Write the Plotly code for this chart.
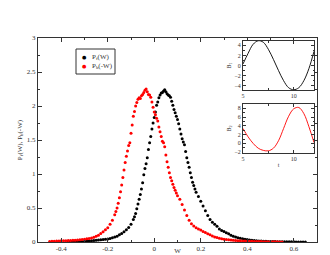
import plotly.graph_objects as go

# ---------------- data ----------------
# P_b(-W) (red)
w_red = [-0.45, -0.44, -0.43, -0.42, -0.41, -0.40, -0.39, -0.38, -0.37, -0.36,
         -0.35, -0.34, -0.33, -0.32, -0.31, -0.30, -0.29, -0.28, -0.27, -0.26,
         -0.25, -0.24, -0.23, -0.22, -0.21, -0.20, -0.19, -0.18, -0.17,
         -0.165, -0.16, -0.155, -0.15, -0.145, -0.14, -0.135, -0.13, -0.125, -0.12,
         -0.115, -0.11, -0.105, -0.10, -0.095, -0.09, -0.085, -0.08, -0.075, -0.07,
         -0.065, -0.06, -0.055, -0.05, -0.045, -0.04, -0.035, -0.03, -0.025, -0.02,
         -0.015, -0.01, -0.005, 0.0, 0.005, 0.01, 0.015, 0.02, 0.025, 0.03,
         0.035, 0.04, 0.045, 0.05, 0.055, 0.06, 0.065, 0.07, 0.075, 0.08,
         0.085, 0.09, 0.095, 0.10,
         0.11, 0.12, 0.13, 0.14, 0.15, 0.16, 0.17, 0.18, 0.19, 0.20,
         0.21, 0.22, 0.23, 0.24, 0.25, 0.26, 0.27, 0.28, 0.29, 0.30,
         0.31, 0.32, 0.33, 0.34, 0.35, 0.36, 0.37, 0.38, 0.39, 0.40,
         0.41, 0.42, 0.43, 0.44, 0.45, 0.46, 0.47, 0.48, 0.49, 0.50,
         0.51, 0.52, 0.53, 0.54, 0.55]
p_red = [0.008, 0.010, 0.012, 0.014, 0.016, 0.017, 0.019, 0.020, 0.021, 0.023,
         0.025, 0.027, 0.030, 0.033, 0.036, 0.040, 0.046, 0.052, 0.060, 0.070,
         0.085, 0.100, 0.125, 0.150, 0.180, 0.210, 0.260, 0.320, 0.400,
         0.45, 0.50, 0.57, 0.65, 0.74, 0.84, 0.95, 1.06, 1.17, 1.26,
         1.34, 1.42, 1.46, 1.60, 1.72, 1.85, 1.92, 2.00, 2.05, 2.10,
         2.12, 2.11, 2.15, 2.17, 2.20, 2.23, 2.25, 2.21, 2.17, 2.16,
         2.13, 2.06, 1.98, 1.91, 1.87, 1.82, 1.78, 1.69, 1.62, 1.55,
         1.48, 1.46, 1.40, 1.28, 1.18, 1.10, 1.02, 0.95, 0.90, 0.85,
         0.80, 0.76, 0.72, 0.68,
         0.63, 0.55, 0.47, 0.39, 0.32, 0.27, 0.235, 0.21, 0.19, 0.175,
         0.155, 0.14, 0.12, 0.105, 0.09, 0.075, 0.065, 0.055, 0.047, 0.040,
         0.036, 0.032, 0.028, 0.025, 0.022, 0.020, 0.018, 0.016, 0.014, 0.012,
         0.011, 0.010, 0.009, 0.008, 0.007, 0.006, 0.005, 0.004, 0.004, 0.003,
         0.003, 0.002, 0.002, 0.001, 0.001]

# P_f(W) (black)
w_black = [-0.37, -0.36, -0.35, -0.34, -0.33, -0.32, -0.31, -0.30, -0.29, -0.28,
           -0.27, -0.26, -0.25, -0.24, -0.23, -0.22, -0.21, -0.20, -0.19, -0.18,
           -0.17, -0.16, -0.15, -0.14, -0.13, -0.12, -0.11, -0.10, -0.09,
           -0.085, -0.08, -0.075, -0.07, -0.065, -0.06, -0.055, -0.05, -0.045, -0.04,
           -0.035, -0.03, -0.025, -0.02, -0.015, -0.01, -0.005, 0.0, 0.005, 0.01,
           0.015, 0.02, 0.025, 0.03, 0.035, 0.04, 0.045, 0.05, 0.055, 0.06,
           0.065, 0.07, 0.075, 0.08, 0.085, 0.09, 0.095, 0.10, 0.105, 0.11,
           0.115, 0.12, 0.125, 0.13, 0.135, 0.14, 0.145, 0.15, 0.155, 0.16,
           0.165, 0.17, 0.175, 0.18,
           0.19, 0.20, 0.21, 0.22, 0.23, 0.24, 0.25, 0.26, 0.27, 0.28,
           0.29, 0.30, 0.31, 0.32, 0.33, 0.34, 0.35, 0.36, 0.37, 0.38,
           0.39, 0.40, 0.41, 0.42, 0.43, 0.44, 0.45, 0.46, 0.47, 0.48,
           0.49, 0.50, 0.51, 0.52, 0.53, 0.54, 0.55, 0.56, 0.57, 0.58,
           0.59, 0.60, 0.61, 0.62, 0.63, 0.64, 0.65]
p_black = [0.004, 0.005, 0.005, 0.006, 0.007, 0.008, 0.009, 0.011, 0.013, 0.015,
           0.018, 0.022, 0.026, 0.029, 0.032, 0.036, 0.040, 0.045, 0.052, 0.062,
           0.072, 0.086, 0.105, 0.125, 0.150, 0.180, 0.215, 0.260, 0.330,
           0.37, 0.42, 0.49, 0.56, 0.63, 0.70, 0.78, 0.87, 0.99, 1.08,
           1.15, 1.24, 1.36, 1.46, 1.55, 1.66, 1.75, 1.83, 1.91, 2.01,
           2.06, 2.12, 2.16, 2.19, 2.20, 2.22, 2.24, 2.21, 2.18, 2.16,
           2.15, 2.13, 2.07, 2.01, 1.95, 1.90, 1.85, 1.80, 1.74, 1.66,
           1.59, 1.52, 1.47, 1.43, 1.33, 1.24, 1.17, 1.10, 1.02, 0.95,
           0.88, 0.83, 0.78, 0.73,
           0.67, 0.60, 0.53, 0.46, 0.39, 0.33, 0.29, 0.26, 0.23, 0.19,
           0.17, 0.155, 0.135, 0.12, 0.10, 0.085, 0.073, 0.063, 0.055, 0.047,
           0.040, 0.035, 0.030, 0.026, 0.022, 0.019, 0.016, 0.014, 0.012, 0.010,
           0.009, 0.008, 0.007, 0.006, 0.005, 0.004, 0.004, 0.003, 0.003, 0.002,
           0.002, 0.002, 0.001, 0.001, 0.001, 0.001, 0.001]

# insets
t_vals = [5.0, 5.5, 6.0, 6.5, 7.0, 7.5, 8.0, 8.5, 9.0, 9.5, 10.0, 10.5, 11.0, 11.5, 12.0]
b1_vals = [0.3, 2.4, 4.2, 4.9, 4.6, 3.2, 1.2, -1.0, -3.0, -4.4, -4.8, -4.4, -3.0, -0.6, 2.8]
b2_vals = [3.4, 1.5, 0.0, -1.1, -1.6, -1.7, -1.1, 0.6, 3.4, 6.2, 7.9, 8.2, 6.8, 3.8, 0.2]

main_xticks = [-0.4, -0.2, 0, 0.2, 0.4, 0.6]
main_xlabels = ["-0.4", "-0.2", "0", "0.2", "0.4", "0.6"]
main_yticks = [0, 0.5, 1, 1.5, 2, 2.5, 3]
main_ylabels = ["0", "0.5", "1", "1.5", "2", "2.5", "3"]
legend_names = ["P<sub>f</sub>(W)", "P<sub>b</sub>(-W)"]

# ---------------- figure ----------------
FONT = "Liberation Serif"
AX = "#333333"
TXT = "#333333"
WIN_W, WIN_H = 330, 255
OFF = 8  # default page margin around the plot div
W, H = WIN_W - OFF, WIN_H - OFF

fig = go.Figure()
fig.add_trace(go.Scatter(x=w_black, y=p_black, mode="markers", name=legend_names[0],
                         marker=dict(color="black", size=3), xaxis="x", yaxis="y"))
fig.add_trace(go.Scatter(x=w_red, y=p_red, mode="markers", name=legend_names[1],
                         marker=dict(color="red", size=3), xaxis="x", yaxis="y"))
fig.add_trace(go.Scatter(x=t_vals, y=b1_vals, mode="lines", line=dict(color="black", width=0.9, shape="spline"),
                         showlegend=False, xaxis="x2", yaxis="y2"))
fig.add_trace(go.Scatter(x=t_vals, y=b2_vals, mode="lines", line=dict(color="red", width=0.9, shape="spline"),
                         showlegend=False, xaxis="x3", yaxis="y3"))


def fx(xw):
    return (xw - OFF) / W


def fy(yw):
    return (WIN_H - yw) / H


def px_dom(a, b):
    return [fx(a), fx(b)]


def py_dom(top, bottom):
    return [fy(bottom), fy(top)]


def ax_common(size):
    return dict(showline=True, linecolor=AX, linewidth=1, mirror="ticks", ticks="inside",
                tickcolor=AX, showgrid=False, zeroline=False, automargin=False,
                tickfont=dict(family=FONT, size=size, color=TXT))


fig.update_layout(
    width=W, height=H,
    margin=dict(l=0, r=0, t=0, b=0, autoexpand=False),
    paper_bgcolor="white", plot_bgcolor="white",
    font=dict(family=FONT, color=TXT),
    showlegend=False,
    xaxis=dict(domain=px_dom(38, 317), range=[-0.5, 0.7], tickvals=main_xticks, ticktext=main_xlabels,
               ticklen=4, minor=dict(ticks="inside", dtick=0.1, tick0=0, ticklen=2, tickcolor=AX),
               title=dict(text="W", font=dict(family=FONT, size=7, color=TXT), standoff=0), anchor="y",
               **ax_common(7)),
    yaxis=dict(domain=py_dom(38, 242), range=[0, 3], tickvals=main_yticks, ticktext=main_ylabels,
               ticklen=4, minor=dict(ticks="inside", dtick=0.25, tick0=0, ticklen=2, tickcolor=AX),
               title=dict(text="P<sub>f</sub>(W), P<sub>b</sub>(-W)", font=dict(family=FONT, size=7, color=TXT),
                          standoff=3),
               anchor="x", **ax_common(7)),
    xaxis2=dict(domain=px_dom(243, 314), range=[5, 12], tickvals=[5, 10], ticktext=["5", "10"],
                ticklen=3, minor=dict(ticks="inside", dtick=2.5, tick0=0, ticklen=2, tickcolor=AX),
                anchor="y2", **ax_common(6)),
    yaxis2=dict(domain=py_dom(41, 90), range=[-4.85, 4.85], tickvals=[-4, -2, 0, 2, 4],
                ticklen=3, minor=dict(ticks="inside", dtick=1, tick0=0, ticklen=1.5, tickcolor=AX),
                title=dict(text="B<sub>1</sub>", font=dict(family=FONT, size=6, color=TXT), standoff=2),
                anchor="x2", **ax_common(6)),
    xaxis3=dict(domain=px_dom(243, 314), range=[5, 12], tickvals=[5, 10], ticktext=["5", "10"],
                ticklen=3, minor=dict(ticks="inside", dtick=2.5, tick0=0, ticklen=2, tickcolor=AX),
                title=dict(text="t", font=dict(family=FONT, size=6, color=TXT), standoff=1),
                anchor="y3", **ax_common(6)),
    yaxis3=dict(domain=py_dom(104, 153), range=[-2.2, 9], tickvals=[-2, 0, 2, 4, 6, 8],
                ticklen=3, minor=dict(ticks="inside", dtick=1, tick0=0, ticklen=1.5, tickcolor=AX),
                title=dict(text="B<sub>2</sub>", font=dict(family=FONT, size=6, color=TXT), standoff=2),
                anchor="x3", **ax_common(6)),
)

# hand-built legend box (Grace style)
fig.add_shape(type="rect", xref="paper", yref="paper",
              x0=fx(76), x1=fx(115), y0=fy(74), y1=fy(49),
              line=dict(color=AX, width=1), fillcolor="white", layer="above")
for i, (name, col) in enumerate(zip(legend_names, ["black", "red"])):
    yy = fy(56.5 + 10 * i)
    fig.add_annotation(xref="paper", yref="paper", x=fx(84), y=yy, text="●", showarrow=False,
                       font=dict(family="DejaVu Sans", size=5, color=col), xanchor="center", yanchor="middle")
    fig.add_annotation(xref="paper", yref="paper", x=fx(90), y=yy, text=name, showarrow=False,
                       font=dict(family=FONT, size=7, color=TXT), xanchor="left", yanchor="middle")

fig.write_html("out.html")
